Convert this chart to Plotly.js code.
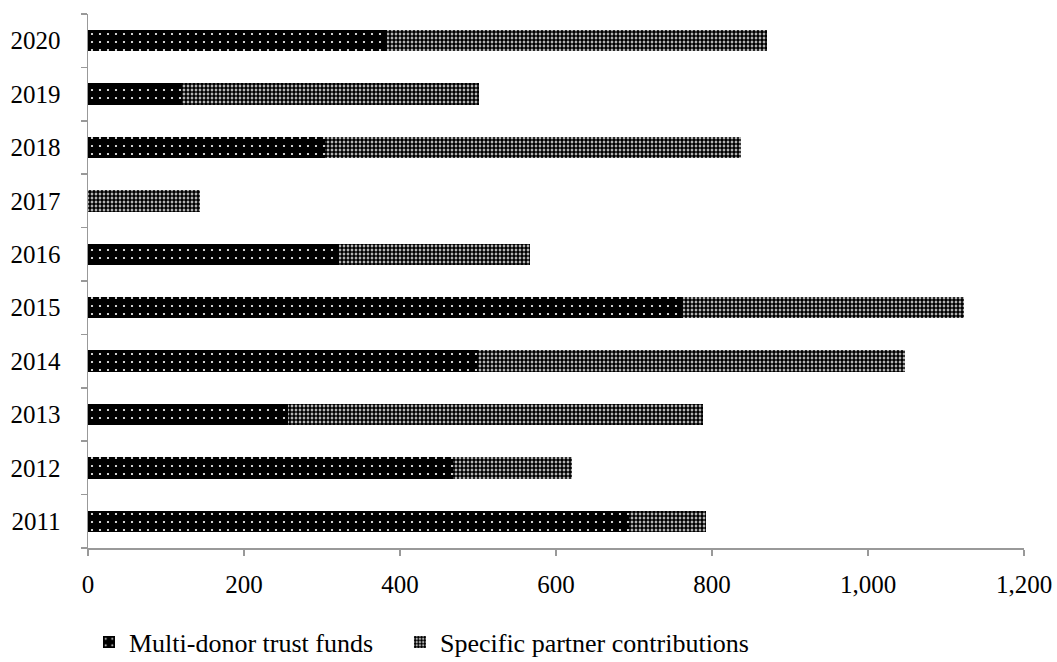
<!DOCTYPE html>
<html><head><meta charset="utf-8">
<script src="https://cdn.plot.ly/plotly-3.0.1.min.js"></script>
<style>body{margin:0;background:#fff}#chart{width:1057px;height:662px}</style>
</head><body><div id="chart"></div>
<script>
const years = ['2011','2012','2013','2014','2015','2016','2017','2018','2019','2020'];
const multiDonor = [693, 468, 257, 500, 763, 322, 0, 304, 120, 383];
const specificPartner = [99, 152, 532, 547, 360, 245, 144, 533, 381, 488];
const xTickVals = [0, 200, 400, 600, 800, 1000, 1200];
const xTickText = ['0', '200', '400', '600', '800', '1,000', '1,200'];

const tickFont = {family: 'Liberation Serif', size: 25, color: '#000'};
const legendFont = {family: 'Liberation Serif', size: 26, color: '#000'};

const traces = [
  {type: 'bar', orientation: 'h', name: 'Multi-donor trust funds', y: years, x: multiDonor, legend: 'legend',
   marker: {color: '#000', line: {width: 0},
     pattern: {shape: '.', bgcolor: '#000', fgcolor: '#fff', size: 8, solidity: 0.06, fillmode: 'replace'}}},
  {type: 'bar', orientation: 'h', name: 'Specific partner contributions', y: years, x: specificPartner, legend: 'legend2',
   marker: {color: '#fff', line: {width: 0},
     pattern: {shape: '.', bgcolor: '#fff', fgcolor: '#000', size: 4, solidity: 0.75, fillmode: 'replace'}}}
];

const legendBase = {orientation: 'h', xref: 'container', yref: 'container', xanchor: 'left',
                    y: 0.03, yanchor: 'middle', font: legendFont, itemwidth: 30, bgcolor: 'rgba(0,0,0,0)'};

const layout = {
  width: 1057, height: 662,
  margin: {l: 88, r: 33, t: 14, b: 114, autoexpand: false},
  barmode: 'stack', bargap: 0.6,
  paper_bgcolor: '#fff', plot_bgcolor: '#fff',
  font: tickFont,
  showlegend: true,
  legend: Object.assign({}, legendBase, {x: 0.0842}),
  legend2: Object.assign({}, legendBase, {x: 0.3784}),
  xaxis: {range: [0, 1200], tickvals: xTickVals, ticktext: xTickText, showgrid: false, zeroline: false,
          showline: true, linecolor: '#999', linewidth: 1.5, ticks: 'outside', ticklen: 6, tickcolor: '#999',
          tickwidth: 1.5, ticklabelstandoff: 7, tickfont: tickFont},
  yaxis: {type: 'category', showgrid: false, zeroline: false, showline: true, linecolor: '#999', linewidth: 1.5,
          ticks: 'outside', tickson: 'boundaries', ticklen: 6, tickcolor: '#999', tickwidth: 1.5,
          ticklabelstandoff: 21, tickfont: tickFont}
};

Plotly.newPlot('chart', traces, layout, {displayModeBar: false, staticPlot: true});
</script></body></html>
